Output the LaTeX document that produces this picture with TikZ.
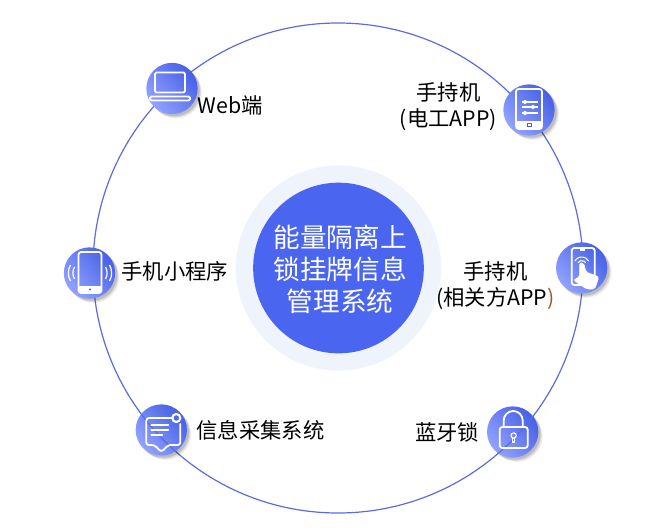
\documentclass[tikz,border=0pt]{standalone}
\usepackage{fontspec}
\setmainfont{Noto Sans CJK SC}
\usetikzlibrary{shadows}
\definecolor{ringblue}{HTML}{5A6CE0}
\definecolor{hubblue}{HTML}{4A66F0}
\definecolor{hubpale}{HTML}{EFF3FB}
\definecolor{discdark}{HTML}{4660E6}
\definecolor{disclight}{HTML}{92A2FF}
\definecolor{parenbrown}{HTML}{9A5A2A}
\tikzset{
  icondisc/.style={circle, inner sep=0pt, minimum size=38.5pt,
    left color=discdark, right color=disclight, shading angle=-50,
    drop shadow={shadow xshift=1.6pt, shadow yshift=-1.6pt, fill=black, opacity=0.12},
    drop shadow={shadow xshift=2.4pt, shadow yshift=-2.4pt, fill=black, opacity=0.10},
    drop shadow={shadow xshift=3.2pt, shadow yshift=-3.2pt, fill=black, opacity=0.06}},
  iconline/.style={draw=white, line width=1.35pt, line cap=round, line join=round},
  iconfill/.style={fill=white, draw=white, line width=0.6pt, line join=round},
  itemtext/.style={font=\fontsize{16pt}{19.5pt}\selectfont, text=black, align=center, inner sep=0pt}
}

\begin{document}
\begin{tikzpicture}[x=0.75pt,y=-0.75pt]
   \useasboundingbox (0,0) rectangle (669,532);

   % ring and hub
   \draw[ringblue, line width=0.9pt] (338,268) circle (245);
   \node[circle, fill=hubpale, inner sep=0pt, minimum size=154pt] (hubback) at (338.5,268) {};
   \node[circle, fill=hubblue, inner sep=0pt, minimum size=128pt] (hub) at (338.5,268) {};
   \node[text=white, inner sep=0pt, align=center,
         font=\fontsize{20pt}{24pt}\selectfont] (hubtext) at (340,269) {能量隔离上\\锁挂牌信息\\管理系统};

   % icon discs
   \node[icondisc] (web) at (172,88.5) {};
   \node[icondisc] (tablet) at (529,110) {};
   \node[icondisc] (touch) at (581.7,268) {};
   \node[icondisc] (phone) at (89.5,273) {};
   \node[icondisc] (info) at (161.3,430) {};
   \node[icondisc] (lock) at (512.7,432) {};

   % the ring shows through these two
   \begin{scope}
      \clip (info) circle (25.5);
      \draw[ringblue, line width=0.9pt] (338,268) circle (245);
   \end{scope}
   \begin{scope}
      \clip (lock) circle (25.5);
      \draw[ringblue, line width=0.9pt] (338,268) circle (245);
   \end{scope}

   % laptop
   \begin{scope}[shift={(web)}]
      \draw[iconline, rounded corners=1pt] (-17,-16) rectangle (13,4);
      \draw[iconline, rounded corners=1pt] (-22,8) rectangle (18,12);
   \end{scope}

   % tablet with sliders
   \begin{scope}[shift={(tablet)}]
      \draw[iconline, rounded corners=2pt] (-13,-21) rectangle (13,19);
      \fill[white, rounded corners=1.5pt] (-13,11) rectangle (13,19);
      \draw[discdark, line width=0.7pt] (-2,13.5) rectangle (2,16.5);
      \draw[white, line width=0.8pt] (-7,-8) -- (9,-8) (-7,-3) -- (9,-3) (-7,3) -- (9,3);
      \fill[white] (-4,-8) circle (2) (4,-3) circle (2) (-4,3) circle (2);
   \end{scope}

   % phone with touching hand
   \begin{scope}[shift={(touch)}]
      \draw[iconline, rounded corners=2pt] (-10,-20) rectangle (13,17);
      \draw[white, line width=0.8pt] (-2,-18) -- (3,-18);
      \draw[white, line width=0.8pt] (-3.9,-5.2) arc (210:330:4.5) (-6.9,-7) arc (210:330:8);
      \draw[iconfill, rounded corners=1.5pt] (-8,12) -- (5,21) -- (13,21) -- (17,9) -- (4,4) -- (2,-5) -- (-2,-5) -- (-2,9) -- cycle;
   \end{scope}

   % phone with signal arcs
   \begin{scope}[shift={(phone)}]
      \draw[iconline, rounded corners=2pt] (-11,-21) rectangle (12,20);
      \fill[white, rounded corners=1.5pt] (-11,13) rectangle (12,20);
      \fill[discdark] (0.5,16.5) circle (1.2);
      \draw[white, line width=0.9pt] (-15,6) arc (150:210:12) (-19,8) arc (150:210:16);
      \draw[white, line width=0.9pt] (16,6) arc (30:-30:12) (20,8) arc (30:-30:16);
   \end{scope}

   % message bubble
   \begin{scope}[shift={(info)}]
      \draw[iconline, rounded corners=2pt] (10,-12) -- (-15,-12) -- (-15,15) -- (-7,15) -- (0,22) -- (7,15) -- (19,15) -- (19,-6);
      \draw[iconline] (-10,-5) -- (7,-5) (-10,0) -- (7,0) (-10,5) -- (1,5);
      \draw[white, line width=1.6pt] (15,-12) circle (4);
   \end{scope}

   % padlock
   \begin{scope}[shift={(lock)}]
      \draw[iconline, rounded corners=2pt] (-13,-5) rectangle (15,16);
      \draw[iconline] (-9,-5) -- (-9,-11.5) arc (180:360:9.5) -- (10,-5);
      \draw[white, line width=0.9pt] (1,3.5) circle (2.6);
      \draw[white, line width=0.9pt] (0,6) -- (0,10) -- (2,10) -- (2,6);
   \end{scope}

   % labels
   \node[itemtext] (weblabel) at (230,105) {Web端};
   \node[itemtext] (tabletlabel) at (448.5,106.5) {手持机\\(电工APP)};
   \node[itemtext] (touchlabel) at (495.5,286) {手持机\\(相关方APP\textcolor{parenbrown}{)}};
   \node[itemtext] (phonelabel) at (175,271) {手机小程序};
   \node[itemtext] (infolabel) at (260.5,430) {信息采集系统};
   \node[itemtext] (locklabel) at (447,432) {蓝牙锁};
\end{tikzpicture}
\end{document}
